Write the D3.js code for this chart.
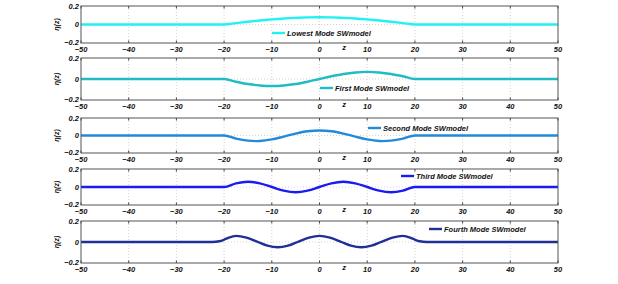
<!DOCTYPE html>
<html>
<head>
<meta charset="utf-8">
<script src="https://cdn.jsdelivr.net/npm/d3@7"></script>
<style>
  body { margin: 0; background: #fff; }
  svg text { font-family: "Liberation Sans", Arial, sans-serif; font-weight: bold; font-style: italic; }
</style>
</head>
<body>
<div id="chart"></div>
<script>
// Data
const modeNames = ["Lowest Mode SWmodel", "First Mode SWmodel", "Second Mode SWmodel", "Third Mode SWmodel", "Fourth Mode SWmodel"];
const modeColors = ["#1ff2f2", "#1fbcc6", "#228ad8", "#1a1af2", "#1f2f96"];
const xTicks = [-50, -40, -30, -20, -10, 0, 10, 20, 30, 40, 50];
const yTicks = [-0.2, 0, 0.2];

const zLowest = [-50, -20, -17.5, -15, -12.5, -10, -7.5, -5, -2.5, 0, 2.5, 5, 7.5, 10, 12.5, 15, 17.5, 20, 50];
const etaLowest = [0, 0, 0.015, 0.030, 0.043, 0.055, 0.065, 0.072, 0.077, 0.078, 0.077, 0.072, 0.065, 0.055, 0.043, 0.030, 0.015, 0, 0];

const zFirst = [-50, -20, -17.5, -15, -12.5, -10, -7.5, -5, -2.5, 0, 2.5, 5, 7.5, 10, 12.5, 15, 17.5, 20, 50];
const etaFirst = [0, 0, -0.026, -0.048, -0.062, -0.067, -0.062, -0.048, -0.026, 0, 0.026, 0.048, 0.062, 0.068, 0.062, 0.048, 0.026, 0, 0];

const zSecond = [-50, -20, -17.5, -15, -13.3, -12.5, -10, -7.5, -5, -2.5, 0, 2.5, 5, 7.5, 10, 12.5, 13.3, 15, 17.5, 20, 50];
const etaSecond = [0, 0, -0.036, -0.059, -0.064, -0.063, -0.045, -0.012, 0.022, 0.048, 0.058, 0.048, 0.022, -0.012, -0.045, -0.063, -0.064, -0.059, -0.036, 0, 0];

const zThird = [-50, -20, -17.5, -15, -12.5, -10, -7.5, -5, -2.5, 0, 2.5, 5, 7.5, 10, 12.5, 15, 17.5, 20, 50];
const etaThird = [0, 0, 0.041, 0.058, 0.041, 0, -0.041, -0.058, -0.041, 0, 0.041, 0.058, 0.041, 0, -0.041, -0.058, -0.041, 0, 0];

const zFourth = [-50, -22.5, -21, -20, -19, -17.5, -15.3, -13.1, -10.9, -8.75, -6.6, -4.4, -2.2, 0, 2.2, 4.4, 6.6, 8.75, 10.9, 13.1, 15.3, 17.5, 19, 20, 21, 22.5, 50];
const etaFourth = [0, 0, 0.007, 0.022, 0.042, 0.058, 0.041, 0.004, -0.035, -0.050, -0.035, 0.004, 0.041, 0.058, 0.041, 0.004, -0.035, -0.050, -0.035, 0.004, 0.041, 0.058, 0.042, 0.022, 0.007, 0, 0];

const modes = [
  { z: zLowest, eta: etaLowest },
  { z: zFirst, eta: etaFirst },
  { z: zSecond, eta: etaSecond },
  { z: zThird, eta: etaThird },
  { z: zFourth, eta: etaFourth }
];

// Layout
const width = 618, height = 284;
const left = 81, right = 558;
const panels = [
  { top: 6, bottom: 43, legend: [272, 33] },
  { top: 58, bottom: 100, legend: [320, 88] },
  { top: 118, bottom: 153, legend: [368, 128] },
  { top: 169, bottom: 205, legend: [401, 176] },
  { top: 221, bottom: 263, legend: [429, 229] }
];

const svg = d3.select('#chart')
  .append('svg')
  .attr('width', width)
  .attr('height', height);

const x = d3.scaleLinear().domain([-50, 50]).range([left, right]);

const line = d3.line().curve(d3.curveMonotoneX);

panels.forEach((p, i) => {
  const y = d3.scaleLinear().domain([-0.2, 0.2]).range([p.bottom, p.top]);
  const g = svg.append('g');

  // grid
  g.selectAll('.vgrid')
    .data(xTicks.slice(1, -1))
    .join('line')
    .attr('x1', d => x(d)).attr('x2', d => x(d))
    .attr('y1', p.top).attr('y2', p.bottom)
    .attr('stroke', '#c8c8c8')
    .attr('stroke-width', 0.8)
    .attr('stroke-dasharray', '1,2');

  g.append('line')
    .attr('x1', left).attr('x2', right)
    .attr('y1', y(0)).attr('y2', y(0))
    .attr('stroke', '#c8c8c8')
    .attr('stroke-width', 0.8)
    .attr('stroke-dasharray', '1,2');

  // inward ticks on both sides
  g.selectAll('.xtickb')
    .data(xTicks)
    .join('line')
    .attr('x1', d => x(d)).attr('x2', d => x(d))
    .attr('y1', p.bottom).attr('y2', p.bottom - 2.5)
    .attr('stroke', '#444');
  g.selectAll('.xtickt')
    .data(xTicks)
    .join('line')
    .attr('x1', d => x(d)).attr('x2', d => x(d))
    .attr('y1', p.top).attr('y2', p.top + 2.5)
    .attr('stroke', '#444');

  // curve
  const m = modes[i];
  const pts = m.z.map((z, k) => [x(z), y(m.eta[k])]);
  g.append('path')
    .attr('d', line(pts))
    .attr('fill', 'none')
    .attr('stroke', modeColors[i])
    .attr('stroke-width', 2.4);

  // box
  g.append('rect')
    .attr('x', left).attr('y', p.top)
    .attr('width', right - left).attr('height', p.bottom - p.top)
    .attr('fill', 'none')
    .attr('stroke', '#555')
    .attr('stroke-width', 1);

  // tick labels
  g.selectAll('.xlab')
    .data(xTicks)
    .join('text')
    .attr('x', d => x(d))
    .attr('y', p.bottom + 8.5)
    .attr('text-anchor', 'middle')
    .attr('font-size', 7.5)
    .attr('fill', '#111')
    .text(d => d < 0 ? '\u2212' + Math.abs(d) : d);

  g.selectAll('.ylab')
    .data(yTicks)
    .join('text')
    .attr('x', left - 2)
    .attr('y', d => y(d) + (d < 0 ? 1.5 : 2.5))
    .attr('text-anchor', 'end')
    .attr('font-size', 7.5)
    .attr('fill', '#111')
    .text(d => d < 0 ? '\u2212' + Math.abs(d) : d);

  // axis titles
  g.append('text')
    .attr('x', 344)
    .attr('y', p.bottom + 7)
    .attr('text-anchor', 'middle')
    .attr('font-size', 7.5)
    .attr('fill', '#111')
    .text('z');

  g.append('text')
    .attr('transform', `translate(59,${(p.top + p.bottom) / 2}) rotate(-90)`)
    .attr('text-anchor', 'middle')
    .attr('font-size', 7)
    .attr('font-style', 'normal')
    .attr('font-weight', 'normal')
    .attr('fill', '#111')
    .text('\u03b7(z)');

  // legend
  const [lx, ly] = p.legend;
  g.append('line')
    .attr('x1', lx).attr('x2', lx + 13)
    .attr('y1', ly).attr('y2', ly)
    .attr('stroke', modeColors[i])
    .attr('stroke-width', 2.4);
  g.append('text')
    .attr('x', lx + 15)
    .attr('y', ly + 2.6)
    .attr('font-size', 7.5)
    .attr('fill', '#111')
    .text(modeNames[i]);
});
</script>
</body>
</html>
